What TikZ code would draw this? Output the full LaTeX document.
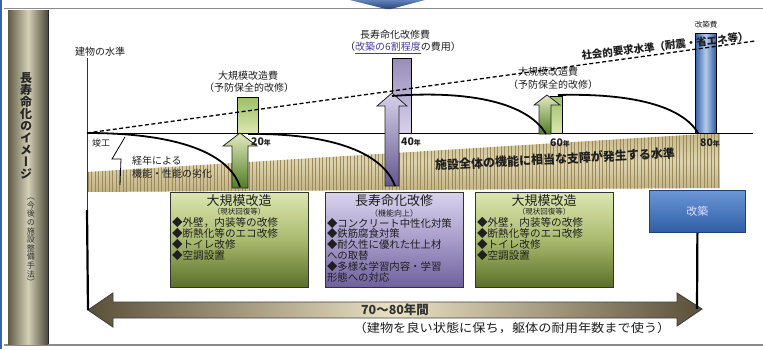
\documentclass[tikz,border=0pt]{standalone}
\usepackage{fontspec}
\newfontfamily\jp{Noto Sans CJK JP}
\newfontfamily\jpv[RawFeature=+vert]{Noto Sans CJK JP}
\usetikzlibrary{arrows.meta}
\definecolor{frameG}{HTML}{8A8A8A}
\definecolor{edgeB}{HTML}{3A62A8}
\definecolor{grnT}{HTML}{DCE6B0}
\definecolor{grnM}{HTML}{A9BA6E}
\definecolor{grnB}{HTML}{5A6E27}
\definecolor{purT}{HTML}{D8D2EC}
\definecolor{purM}{HTML}{A89CCB}
\definecolor{purB}{HTML}{6E609C}
\definecolor{bluT}{HTML}{6A96D6}
\definecolor{bluB}{HTML}{2F5EA6}
\definecolor{bandT}{HTML}{C4B585}
\definecolor{bandM}{HTML}{DDD3AD}
\definecolor{bandB}{HTML}{BFAF7F}
\definecolor{bandLn}{HTML}{9A8A5E}
\definecolor{metD}{HTML}{5A5038}
\definecolor{metL}{HTML}{EAE2C4}
\definecolor{colD}{HTML}{5E5B46}
\definecolor{colL}{HTML}{D4D0B6}
\definecolor{linkP}{HTML}{4B3A9A}
\definecolor{barG}{HTML}{9CC068}
\tikzset{
  txt/.style={inner sep=0pt, outer sep=0pt, text=black!88},
  bar/.style={draw=black, line width=0.9pt},
  blockarrow/.style={draw=black!85, line width=0.8pt},
  curve/.style={line width=1.8pt, black},
  gbox/.style={draw=black!80, line width=1pt, top color=grnT, bottom color=grnB, middle color=grnM, minimum width=138pt, minimum height=95pt, anchor=north west, inner sep=0pt},
  pbox/.style={draw=black!80, line width=1pt, top color=purT, bottom color=purB, middle color=purM, minimum width=138pt, minimum height=95pt, anchor=north west, inner sep=0pt},
  bbox/.style={draw=bluB!70!black, line width=0.8pt, top color=bluT, bottom color=bluB, minimum width=96pt, minimum height=42pt, anchor=north west, inner sep=0pt},
  btitle/.style={txt, font=\jp\fontsize{13}{14}\selectfont},
  bsub/.style={txt, font=\jp\fontsize{7.5}{8}\selectfont},
  blist/.style={txt, anchor=north west, align=left, font=\jp\fontsize{10.6}{11.2}\selectfont},
  lbl/.style={txt, font=\jp\fontsize{10}{11}\selectfont},
  yr/.style={txt, font=\jp\bfseries\fontsize{10.5}{11}\selectfont},
}
\newcommand{\nen}{{\fontsize{7}{7}\selectfont 年}}
\begin{document}
\begin{tikzpicture}[x=1pt,y=-1pt]
\useasboundingbox (0,0) rectangle (763,349);
\fill[white] (0,0) rectangle (763,349);

% frame
\draw[line width=1.6pt, frameG] (4,8.5) -- (763,8.5);
\draw[line width=1.6pt, frameG] (4,345) -- (763,345);
\draw[line width=2pt, edgeB] (1,0) -- (1,349);
\shade[top color=edgeB!80, bottom color=edgeB!70!black] (350,0) -- (425,0) -- (391,9) -- (386,9) -- cycle;

% left column
\shade[left color=colD, right color=colD!80!black, middle color=colL] (8,10) rectangle (48,344);
\draw[line width=1.4pt, black!85] (48.5,10) -- (48.5,344);
\node[txt, align=center, font=\jpv\bfseries\fontsize{12}{12}\selectfont, text=black!85] (coltitle) at (26,126)
  {長\\寿\\命\\化\\の\\イ\\メ\\ー\\ジ};
\node[txt, align=center, font=\jpv\fontsize{8}{8.6}\selectfont, text=black!80] (colsub) at (31,242)
  {（\\今\\後\\の\\施\\設\\整\\備\\手\\法\\）};

% hatched band
\begin{scope}
  \clip (87,172) -- (720,133) -- (720,188) -- (87,192) -- cycle;
  \shade[top color=bandT, bottom color=bandB, middle color=bandM] (87,128) rectangle (720,195);
  \foreach \i in {0,...,181} \draw[bandLn, line width=0.5pt] ({88+3.5*\i},128) -- ++(0,68);
\end{scope}

% axes
\draw[line width=0.8pt, black!80] (87,58) -- (87,210);
\draw[line width=1.1pt, black] (87,133.5) -- (753,133.5);
\node[lbl] (ylab) at (100,52) {建物の水準};

% bars
\draw[bar, top color=barG, bottom color=grnT] (237,97) rectangle (258,133);
\draw[bar, top color=purM!90!black, bottom color=purT] (392,58) rectangle (411,133);
\draw[bar, top color=barG, bottom color=grnT] (550,96) rectangle (562,133);
\shade[left color=bluB, right color=bluB, middle color=bluT!50!white] (695,33) rectangle (716,133);
\draw[bar] (695,33) rectangle (716,133);

% block arrows
\draw[blockarrow, top color=grnT!80!white, bottom color=grnB!90!green] (240,133) -- (257,146) -- (248,146) -- (248,188) -- (232,188) -- (232,146) -- (223,146) -- cycle;
\draw[blockarrow, top color=purT, bottom color=purB!90!black] (392,93) -- (407,106) -- (399,106) -- (399,186) -- (385,186) -- (385,106) -- (377,106) -- cycle;
\draw[blockarrow, top color=grnT!80!white, bottom color=grnB!90!green] (547,95) -- (560,105) -- (551,105) -- (551,134) -- (539,134) -- (539,105) -- (534,105) -- cycle;

% curves
\draw[curve] (87,133) .. controls (170,133) and (228,150) .. (240,187);
\draw[curve] (248,134) .. controls (325,133) and (382,150) .. (395,186);
\draw[curve] (392,96) .. controls (470,90) and (528,103) .. (546,134);
\draw[curve] (558,95) .. controls (632,93) and (682,106) .. (698,133);

% labels above bars
\node[lbl] (l1a) at (248,76) {大規模改造費};
\node[lbl] (l1b) at (249,88) {（予防保全的改修）};
\node[lbl] (l2a) at (395,35) {長寿命化改修費};
\node[lbl] (l2b) at (403,48) {（\textcolor{linkP}{\underline{改築の6割程度}}の費用）};
\node[lbl] (l3a) at (548,72) {大規模改造費};
\node[lbl] (l3b) at (553,85) {（予防保全的改修）};
\node[txt, font=\jp\fontsize{7.5}{8}\selectfont] (l4) at (706,25) {改築費};

% social requirement dashed line
\draw[line width=1.3pt, dash pattern=on 4pt off 2.5pt] (87,133) -- (755,41);
\node[txt, rotate=6.5, font=\jp\bfseries\fontsize{10.5}{11}\selectfont] (social) at (665,46) {社会的要求水準（耐震・省エネ等）};

% band text
\node[txt, rotate=3, font=\jp\bfseries\fontsize{12}{12}\selectfont] (bandtxt) at (555,159) {施設全体の機能に相当な支障が発生する水準};

% start & aging
\node[txt, font=\jp\fontsize{9}{10}\selectfont] (shunko) at (101,143) {竣工};
\draw[line width=0.8pt] (125,137) -- (112,159) -- (121,159) -- (120,185);
\node[lbl, anchor=west] (age1) at (132,161) {経年による};
\node[lbl, anchor=west] (age2) at (132,174) {機能・性能の劣化};

% years
\node[yr] (y20) at (261,142) {20\nen};
\node[yr] (y40) at (411,142) {40\nen};
\node[yr] (y60) at (560,143) {60\nen};
\node[yr] (y80) at (710,143) {80\nen};

% boxes
\node[gbox] (b1) at (170,192) {};
\node[btitle] (b1t) at (239,200.5) {大規模改造};
\node[bsub] (b1s) at (239,212) {（現状回復等）};
\node[blist] (b1l) at (172,217) {◆外壁，内装等の改修\\◆断熱化等のエコ改修\\◆トイレ改修\\◆空調設置};

\node[pbox] (b2) at (325,192) {};
\node[btitle] (b2t) at (394,201) {長寿命化改修};
\node[bsub, font=\jp\fontsize{8}{8}\selectfont] (b2s) at (394,213) {（機能向上）};
\node[blist, font=\jp\fontsize{10.4}{10.8}\selectfont] (b2l) at (327,218) {◆コンクリート中性化対策\\◆鉄筋腐食対策\\◆耐久性に優れた仕上材\\への取替\\◆多様な学習内容・学習\\形態への対応};

\node[gbox] (b3) at (475,192) {};
\node[btitle] (b3t) at (544,200.5) {大規模改造};
\node[bsub] (b3s) at (544,212) {（現状回復等）};
\node[blist] (b3l) at (477,217) {◆外壁，内装等の改修\\◆断熱化等のエコ改修\\◆トイレ改修\\◆空調設置};

\node[bbox] (b4) at (649,190) {};
\node[txt, font=\jp\fontsize{11}{11}\selectfont, text=white!88!blue] (b4t) at (b4.center) {改築};

% long double arrow
\shade[left color=metD, right color=metD, middle color=metL]
  (88,310) -- (113,293) -- (113,302) -- (677,302) -- (677,293) -- (702,309) -- (677,326) -- (677,318) -- (113,318) -- (113,327) -- cycle;
\draw[line width=0.9pt, black!75]
  (88,310) -- (113,293) -- (113,302) -- (677,302) -- (677,293) -- (702,309) -- (677,326) -- (677,318) -- (113,318) -- (113,327) -- cycle;
\coordinate (ltip) at (88,310);
\coordinate (rtip) at (697,309);
\coordinate (lstart) at (87,210);
\draw[line width=2.2pt] (lstart) -- (ltip);
\draw[line width=2.2pt] (b4.south) -- (rtip);
\node[txt, font=\jp\bfseries\fontsize{12.5}{13}\selectfont, text=black!80] (span) at (395,310) {70～80年間};
\node[txt, font=\jp\fontsize{12}{12}\selectfont, xscale=1.1] (note) at (512,328) {（建物を良い状態に保ち，躯体の耐用年数まで使う）};
\end{tikzpicture}
\end{document}
